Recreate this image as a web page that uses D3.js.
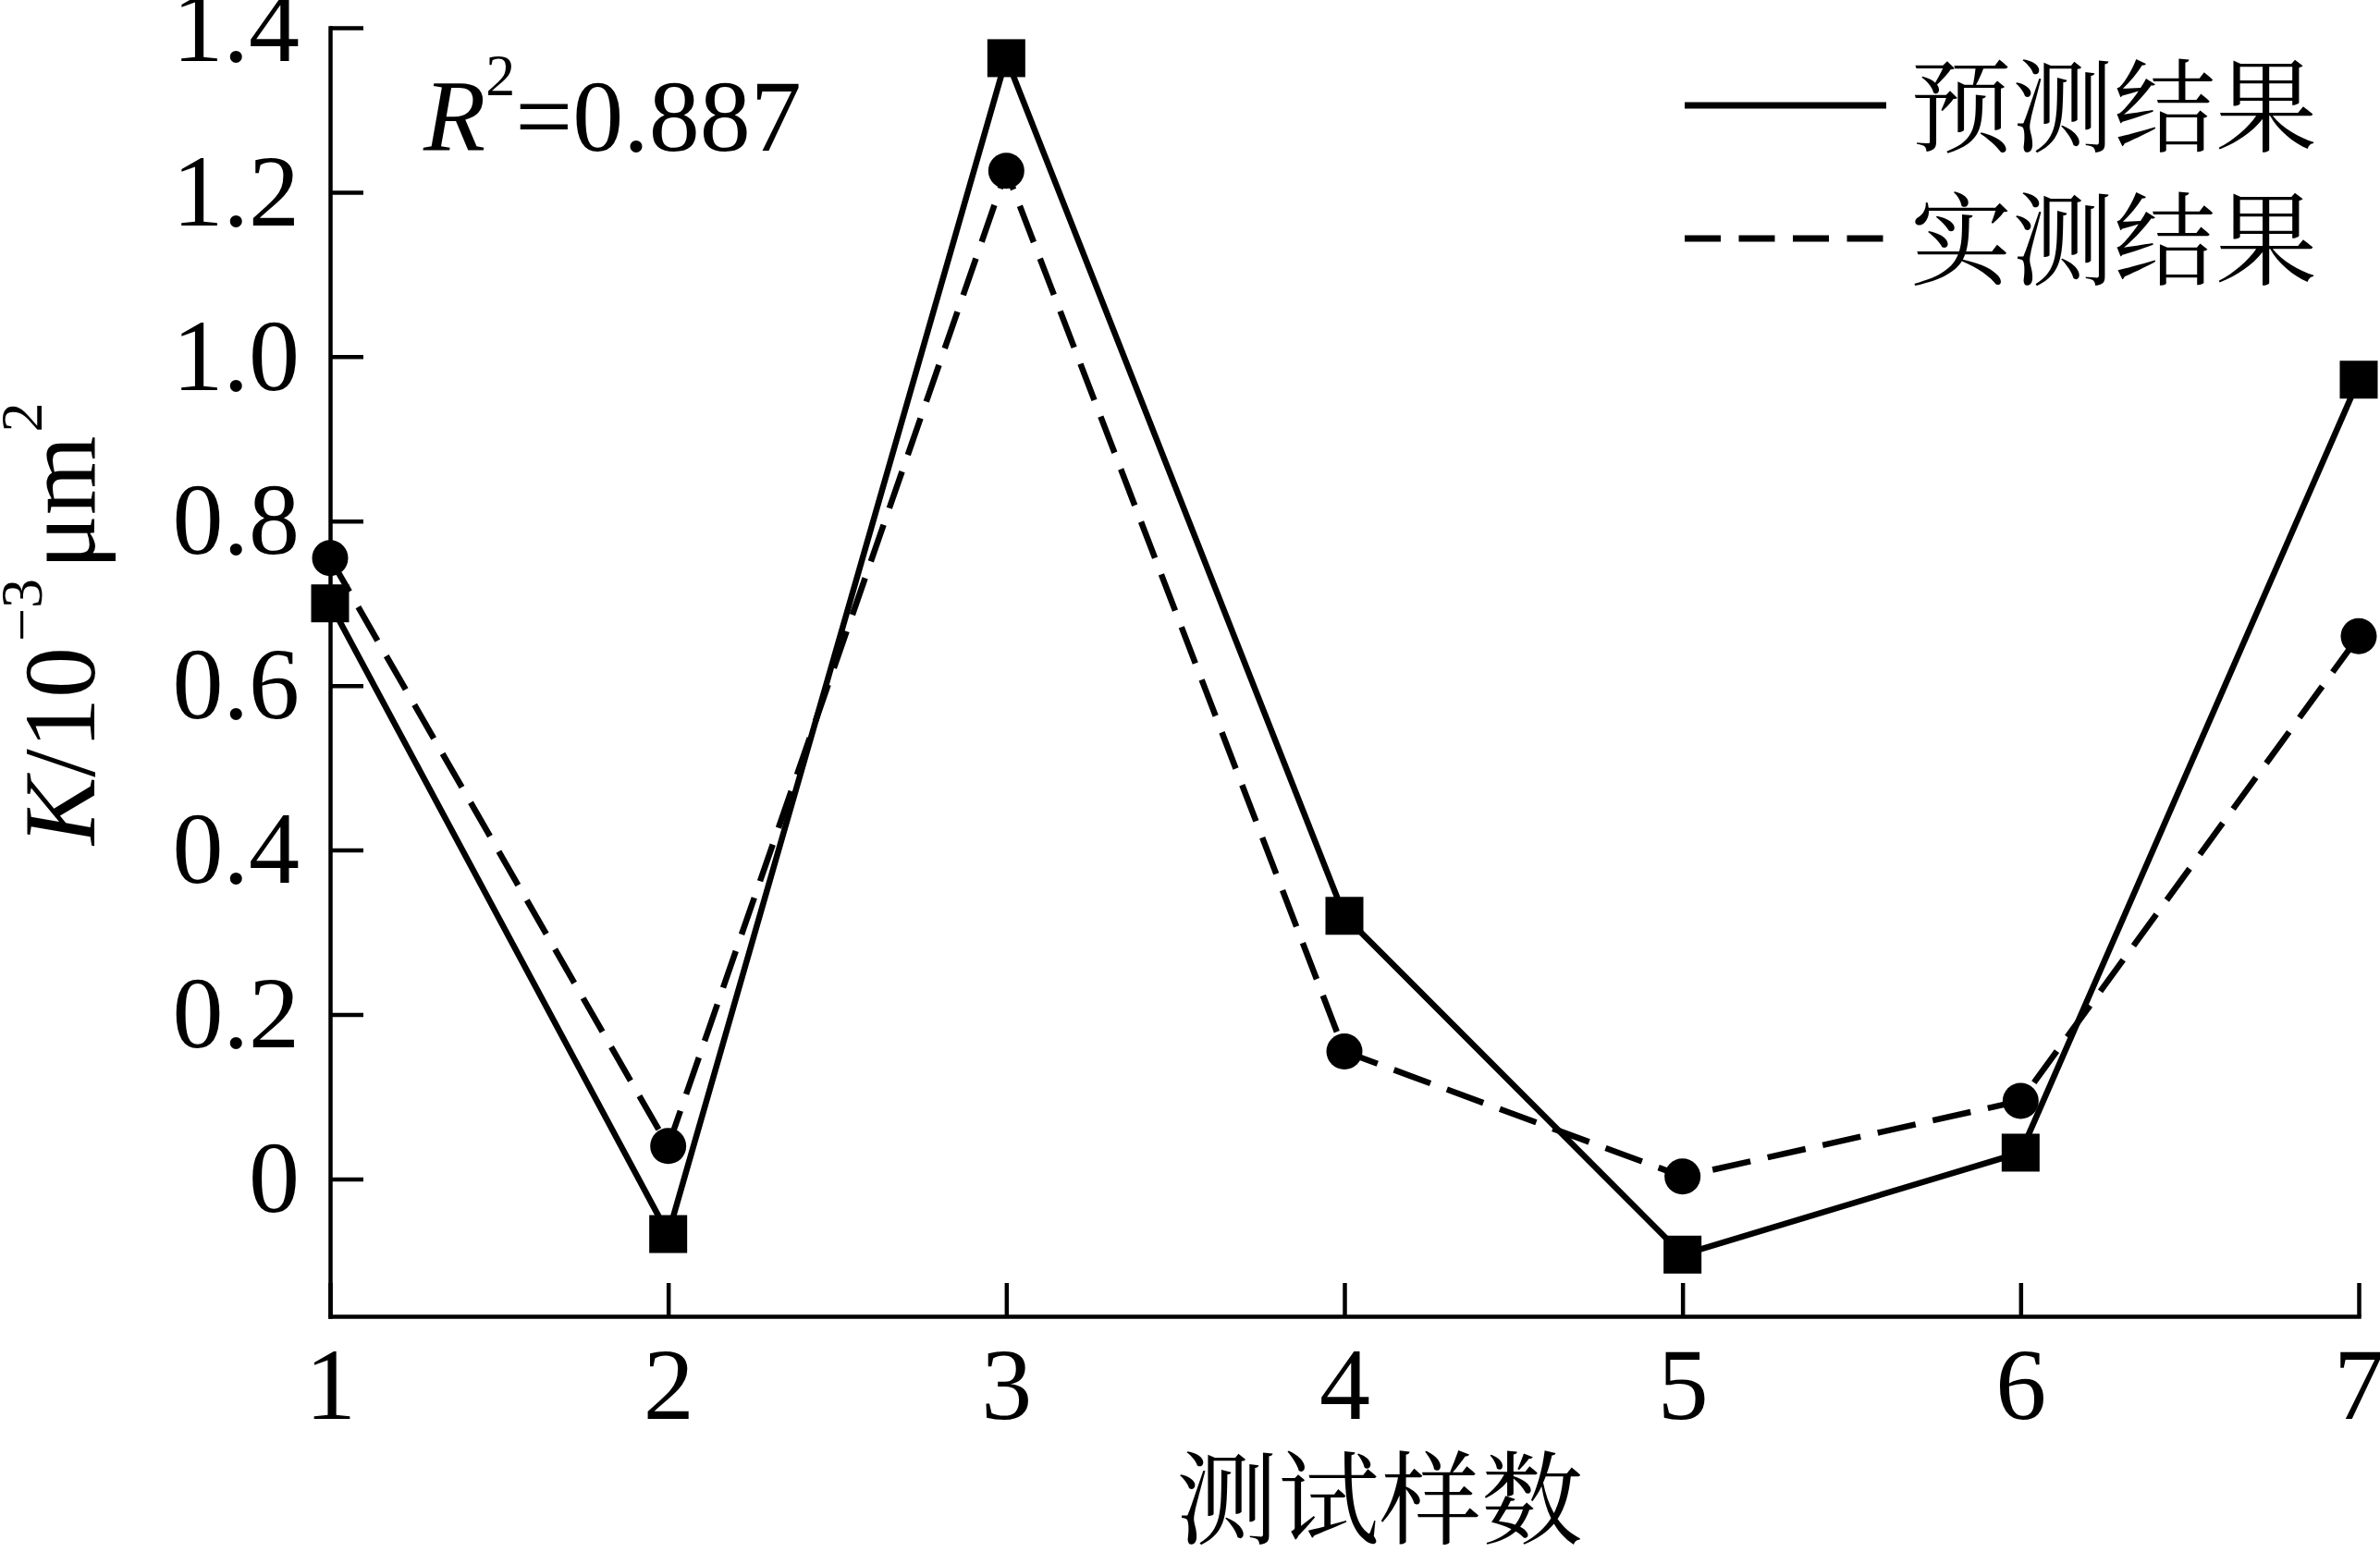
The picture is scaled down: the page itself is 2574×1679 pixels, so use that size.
<!DOCTYPE html>
<html><head><meta charset="utf-8">
<script src="https://cdn.jsdelivr.net/npm/d3@7"></script>
<style>html,body{margin:0;padding:0;background:#fff;} svg{display:block}</style>
</head><body><svg id="chart" width="2574" height="1679"></svg>
<script>
const samples = [1, 2, 3, 4, 5, 6, 7];
const predicted = [0.700, -0.067, 1.363, 0.320, -0.092, 0.032, 0.972];
const measured = [0.755, 0.040, 1.226, 0.155, 0.003, 0.095, 0.660];
const yTicks = [0, 0.2, 0.4, 0.6, 0.8, 1.0, 1.2, 1.4];
const xTicks = [1, 2, 3, 4, 5, 6, 7];
const legendLabels = ["预测结果", "实测结果"];
const xTitle = "测试样数";
const r2Value = "0.887";

const SERIF = "'Liberation Serif','Times New Roman',serif";
const CJK = "'Noto Serif CJK SC','Noto Sans CJK SC',sans-serif";
const FS = 110, SUP = 64;

const svg = d3.select("#chart");
svg.append("rect").attr("width", 2574).attr("height", 1679).attr("fill", "#fff");

const x = d3.scaleLinear().domain([1, 7]).range([357, 2551]);
const y = d3.scaleLinear().domain([-0.167, 1.4]).range([1424, 30]);

// axes
const yAxis = d3.axisLeft(y).tickValues(yTicks)
  .tickFormat(d => d === 0 ? "0" : d3.format(".1f")(d))
  .tickSizeInner(-36).tickSizeOuter(0).tickPadding(33);
const xAxis = d3.axisBottom(x).tickValues(xTicks)
  .tickFormat(d3.format("d"))
  .tickSizeInner(-36).tickSizeOuter(0).tickPadding(33);

const gy = svg.append("g").attr("transform", `translate(${x(1)},0)`).call(yAxis);
const gx = svg.append("g").attr("transform", `translate(0,${y.range()[0]})`).call(xAxis);
[gx, gy].forEach(g => {
  g.attr("font-family", SERIF).attr("font-size", FS);
  g.selectAll("path.domain").attr("stroke", "#000").attr("stroke-width", 4.5).attr("stroke-linecap", "square");
  g.selectAll(".tick line").attr("stroke", "#000").attr("stroke-width", 4.5);
  g.selectAll(".tick text").attr("fill", "#000");
});

// lines
const line = d3.line().x((d, i) => x(samples[i])).y(d => y(d));
svg.append("path").datum(predicted).attr("d", line)
  .attr("fill", "none").attr("stroke", "#000").attr("stroke-width", 6.5).attr("stroke-linejoin", "miter");
svg.append("path").datum(measured).attr("d", line)
  .attr("fill", "none").attr("stroke", "#000").attr("stroke-width", 6.5)
  .attr("stroke-dasharray", "42,19");

// markers
const SQ = 41;
svg.append("g").selectAll("rect").data(predicted).join("rect")
  .attr("x", (d, i) => x(samples[i]) - SQ / 2).attr("y", d => y(d) - SQ / 2)
  .attr("width", SQ).attr("height", SQ).attr("fill", "#000");
svg.append("g").selectAll("circle").data(measured).join("circle")
  .attr("cx", (d, i) => x(samples[i])).attr("cy", d => y(d)).attr("r", 19.5).attr("fill", "#000");

// legend
const legendY = [114, 258];
legendLabels.forEach((lab, i) => {
  svg.append("line").attr("x1", 1822).attr("x2", 2040).attr("y1", legendY[i]).attr("y2", legendY[i])
    .attr("stroke", "#000").attr("stroke-width", 7)
    .attr("stroke-dasharray", i === 1 ? "39,19.5" : null);
  svg.append("text").attr("x", 2066).attr("y", legendY[i] + 42)
    .attr("font-family", CJK).attr("font-size", FS).attr("fill", "#000").text(lab);
});

// R^2 annotation
const r2 = svg.append("text").attr("x", 458).attr("y", 163)
  .attr("font-family", SERIF).attr("font-size", FS).attr("fill", "#000");
r2.append("tspan").attr("font-style", "italic").text("R");
r2.append("tspan").attr("font-size", SUP).attr("dy", -60).text("2");
r2.append("tspan").attr("dy", 60).text("=" + r2Value);

// x title
svg.append("text").attr("x", 1492).attr("y", 1662).attr("text-anchor", "middle")
  .attr("font-family", CJK).attr("font-size", FS).attr("fill", "#000").text(xTitle);

// y title
const yt = svg.append("text").attr("transform", "translate(102,914) rotate(-90)")
  .attr("font-family", SERIF).attr("font-size", FS).attr("fill", "#000");
yt.append("tspan").attr("font-style", "italic").text("K");
yt.append("tspan").text("/10");
yt.append("tspan").attr("font-size", SUP).attr("dy", -57).attr("dx", 6).text("\u22123");
yt.append("tspan").attr("dy", 57).attr("dx", 10).text("\u03bcm");
yt.append("tspan").attr("font-size", SUP).attr("dy", -57).attr("dx", 4).text("2");
</script>
</body></html>
